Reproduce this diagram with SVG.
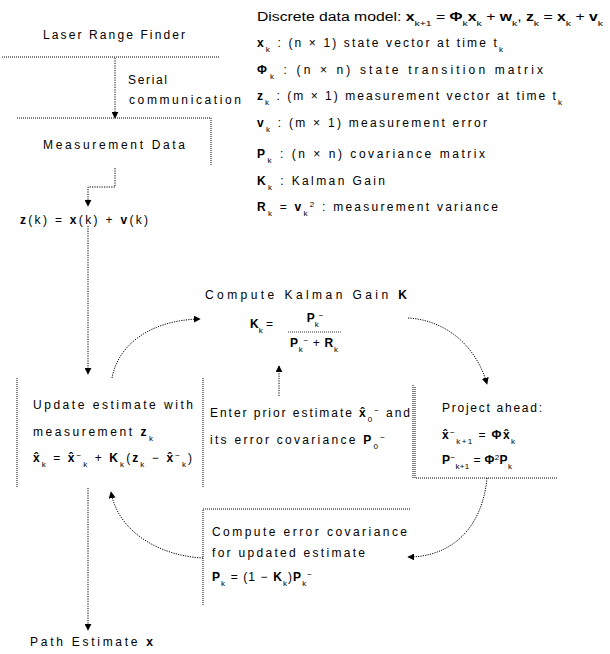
<svg xmlns="http://www.w3.org/2000/svg" width="610" height="654" viewBox="0 0 610 654">
<defs>
<style>
.t{font-family:"Liberation Sans",Arial,sans-serif;font-size:12px;fill:#000}
.b{font-weight:bold}
.s{font-size:8px;baseline-shift:sub}
.p{font-size:8px;baseline-shift:super}
.bd{fill:none;stroke:#000;stroke-width:1;stroke-dasharray:1 1}
.c{fill:none;stroke:#000;stroke-width:1;stroke-dasharray:1.2 1.2}
</style>
<marker id="ah" viewBox="0 0 10 10" refX="9" refY="5" markerWidth="7" markerHeight="7" orient="auto" markerUnits="userSpaceOnUse">
<path d="M0,0 L10,5 L0,10 z" fill="#000"/>
</marker>
</defs>
<rect width="610" height="654" fill="#fff"/>

<g id="laser">
<line class="bd" x1="2" y1="57" x2="220" y2="57"/>
<text class="t" x="43" y="39" textLength="142" lengthAdjust="spacing">Laser Range Finder</text>
</g>

<g id="serial">
<text class="t" x="128" y="84" textLength="39" lengthAdjust="spacing">Serial</text>
<text class="t" x="129" y="104" textLength="112" lengthAdjust="spacing">communication</text>
</g>

<g id="measurement">
<path class="bd" d="M17,118 H211 V166"/>
<text class="t" x="43" y="149" textLength="142" lengthAdjust="spacing">Measurement Data</text>
</g>

<g id="zk">
<text class="t" x="20" y="224" textLength="128" lengthAdjust="spacing"><tspan class="b">z</tspan>(k) = <tspan class="b">x</tspan>(k) + <tspan class="b">v</tspan>(k)</text>
</g>

<g id="legend">
<text class="t" x="257" y="21" textLength="346" lengthAdjust="spacingAndGlyphs">Discrete data model: <tspan class="b">x</tspan><tspan class="s">k+1</tspan> = <tspan class="b">Φ</tspan><tspan class="s">k</tspan><tspan class="b">x</tspan><tspan class="s">k</tspan> + <tspan class="b">w</tspan><tspan class="s">k</tspan>, <tspan class="b">z</tspan><tspan class="s">k</tspan> = <tspan class="b">x</tspan><tspan class="s">k</tspan> + <tspan class="b">v</tspan><tspan class="s">k</tspan></text>
<text class="t" x="257" y="47" textLength="246" lengthAdjust="spacing"><tspan class="b">x</tspan><tspan class="s">k</tspan> : (n × 1) state vector at time t<tspan class="s">k</tspan></text>
<text class="t" x="257" y="74" textLength="286" lengthAdjust="spacing"><tspan class="b">Φ</tspan><tspan class="s">k</tspan> : (n × n) state transition matrix</text>
<text class="t" x="257" y="100" textLength="305" lengthAdjust="spacing"><tspan class="b">z</tspan><tspan class="s">k</tspan> : (m × 1) measurement vector at time t<tspan class="s">k</tspan></text>
<text class="t" x="257" y="127" textLength="230" lengthAdjust="spacing"><tspan class="b">v</tspan><tspan class="s">k</tspan> : (m × 1) measurement error</text>
<text class="t" x="257" y="158" textLength="228" lengthAdjust="spacing"><tspan class="b">P</tspan><tspan class="s">k</tspan> : (n × n) covariance matrix</text>
<text class="t" x="257" y="185" textLength="128" lengthAdjust="spacing"><tspan class="b">K</tspan><tspan class="s">k</tspan> : Kalman Gain</text>
<text class="t" x="257" y="211" textLength="241" lengthAdjust="spacing"><tspan class="b">R</tspan><tspan class="s">k</tspan> = <tspan class="b">v</tspan><tspan class="s">k</tspan><tspan class="p">2</tspan> : measurement variance</text>
</g>

<g id="gain">
<text class="t" x="205" y="299" textLength="202" lengthAdjust="spacing">Compute Kalman Gain <tspan class="b">K</tspan></text>
<text class="t" x="250" y="328"><tspan class="b">K</tspan><tspan class="s">k</tspan> =</text>
<text class="t" x="315" y="322" text-anchor="middle"><tspan class="b">P</tspan><tspan class="s">k</tspan><tspan class="p">−</tspan></text>
<line x1="288" y1="332" x2="342" y2="332" stroke="#000" stroke-width="0.8" stroke-dasharray="1 1"/>
<text class="t" x="290" y="347" textLength="48" lengthAdjust="spacing"><tspan class="b">P</tspan><tspan class="s">k</tspan><tspan class="p">−</tspan> + <tspan class="b">R</tspan><tspan class="s">k</tspan></text>
</g>

<g id="update">
<line class="bd" x1="17" y1="378" x2="17" y2="488"/>
<line class="bd" x1="203" y1="378" x2="203" y2="488"/>
<text class="t" x="33" y="409" textLength="160" lengthAdjust="spacing">Update estimate with</text>
<text class="t" x="33" y="436" textLength="120" lengthAdjust="spacing">measurement <tspan class="b">z</tspan><tspan class="s">k</tspan></text>
<text class="t" x="33" y="462" textLength="159" lengthAdjust="spacing"><tspan class="b">x̂</tspan><tspan class="s">k</tspan> = <tspan class="b">x̂</tspan><tspan class="p">−</tspan><tspan class="s">k</tspan> + <tspan class="b">K</tspan><tspan class="s">k</tspan>(<tspan class="b">z</tspan><tspan class="s">k</tspan> − <tspan class="b">x̂</tspan><tspan class="p">−</tspan><tspan class="s">k</tspan>)</text>
</g>

<g id="prior">
<line class="bd" x1="413" y1="385" x2="413" y2="478"/>
<text class="t" x="210" y="417" textLength="200" lengthAdjust="spacing">Enter prior estimate <tspan class="b">x̂</tspan><tspan class="s">0</tspan><tspan class="p">−</tspan> and</text>
<text class="t" x="210" y="444" textLength="175" lengthAdjust="spacing">its error covariance <tspan class="b">P</tspan><tspan class="s">0</tspan><tspan class="p">−</tspan></text>
</g>

<g id="project">
<path class="bd" d="M415,387 V478 H558"/>
<text class="t" x="442" y="412" textLength="100" lengthAdjust="spacing">Project ahead:</text>
<text class="t" x="442" y="439" textLength="73" lengthAdjust="spacing"><tspan class="b">x̂</tspan><tspan class="p">−</tspan><tspan class="s">k+1</tspan> = <tspan class="b">Φ</tspan><tspan class="b">x̂</tspan><tspan class="s">k</tspan></text>
<text class="t" x="442" y="464" textLength="70" lengthAdjust="spacing"><tspan class="b">P</tspan><tspan class="p">−</tspan><tspan class="s">k+1</tspan> = <tspan class="b">Φ</tspan><tspan class="p">2</tspan><tspan class="b">P</tspan><tspan class="s">k</tspan></text>
</g>

<g id="covariance">
<path class="bd" d="M203,605 V509 H410"/>
<text class="t" x="212" y="536" textLength="195" lengthAdjust="spacing">Compute error covariance</text>
<text class="t" x="212" y="557" textLength="153" lengthAdjust="spacing">for updated estimate</text>
<text class="t" x="212" y="581" textLength="100" lengthAdjust="spacing"><tspan class="b">P</tspan><tspan class="s">k</tspan> = (1 − <tspan class="b">K</tspan><tspan class="s">k</tspan>)<tspan class="b">P</tspan><tspan class="s">k</tspan><tspan class="p">−</tspan></text>
</g>

<g id="path">
<text class="t" x="30" y="646" textLength="123" lengthAdjust="spacing">Path Estimate <tspan class="b">x</tspan></text>
</g>

<g id="connectors">
<path class="c" d="M115,58 V118" marker-end="url(#ah)"/>
<path class="c" d="M115,168 V187 H88 V206" marker-end="url(#ah)"/>
<path class="c" d="M88,226 V374" marker-end="url(#ah)"/>
<path class="c" d="M88,488 V630" marker-end="url(#ah)"/>
<path class="c" d="M279,396 V366" marker-end="url(#ah)"/>
<path class="c" d="M112,378 C118,345 150,320 200,319" marker-end="url(#ah)"/>
<path class="c" d="M408,318 C445,320 476,345 487,384" marker-end="url(#ah)"/>
<path class="c" d="M487,478 C482,530 450,557 408,557" marker-end="url(#ah)"/>
<path class="c" d="M203,558 C160,556 118,532 111,492" marker-end="url(#ah)"/>
</g>
</svg>
